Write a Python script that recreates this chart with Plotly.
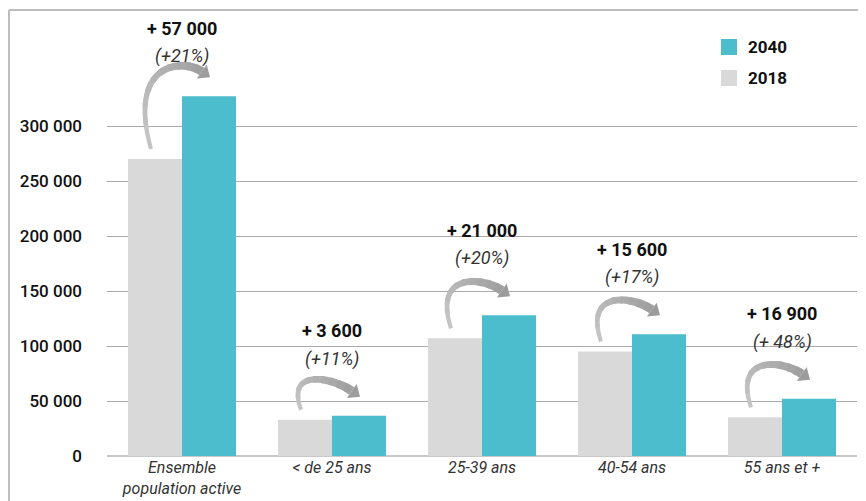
import math
import plotly.graph_objects as go

# ---------------- data ----------------
categories = ["Ensemble<br>population active", "< de 25 ans", "25-39 ans", "40-54 ans", "55 ans et +"]
series_names = ["2018", "2040"]
values_2018 = [270000, 33000, 107000, 95000, 35200]
values_2040 = [327000, 36600, 128000, 110600, 52100]
gain_labels = ["+ 57 000", "+ 3 600", "+ 21 000", "+ 15 600", "+ 16 900"]
pct_labels = ["(+21%)", "(+11%)", "(+20%)", "(+17%)", "(+ 48%)"]
y_tickvals = [0, 50000, 100000, 150000, 200000, 250000, 300000]
y_ticktext = ["0", "50 000", "100 000", "150 000", "200 000", "250 000", "300 000"]

# ---------------- styling / geometry ----------------
# page body has an 8px margin: figure is placed at (8, 8) inside the 866x501 window
OFF = 8
VW, VH = 866, 501
W, H = VW - OFF, VH - OFF
PL, PR, PT, PB = 107, 857, 16, 456          # plot area in window pixels
ML, MR, MT, MB = PL - OFF, W - (PR - OFF), PT - OFF, H - (PB - OFF)
YMAX = 400000
NCAT = len(categories)
COL_2018 = "#D9D9D9"
COL_2040 = "#4BBDCC"
FONT = "Roboto, 'Liberation Sans', Arial, sans-serif"


def xpx(xd):
    return PL + (xd + 0.5) / NCAT * (PR - PL)


def xd(px):
    return (px - PL) / (PR - PL) * NCAT - 0.5


def ypx(yd):
    return PB - yd / YMAX * (PB - PT)


def yd(px):
    return (PB - px) / (PB - PT) * YMAX


def xpaper(px):
    return (px - PL) / (PR - PL)


def ypaper(px):
    return (PB - px) / (PB - PT)


fig = go.Figure()
fig.add_trace(go.Bar(x=list(range(NCAT)), y=values_2018, name=series_names[0],
                     marker=dict(color=COL_2018, line=dict(width=0)), showlegend=False))
fig.add_trace(go.Bar(x=list(range(NCAT)), y=values_2040, name=series_names[1],
                     marker=dict(color=COL_2040, line=dict(width=0)), showlegend=False))

shapes = []
annotations = []


def bez(p0, p1, p2, p3, t):
    a = (1 - t) ** 3
    b = 3 * (1 - t) ** 2 * t
    c = 3 * (1 - t) * t ** 2
    d = t ** 3
    return (a * p0[0] + b * p1[0] + c * p2[0] + d * p3[0],
            a * p0[1] + b * p1[1] + c * p2[1] + d * p3[1])


def bezd(p0, p1, p2, p3, t):
    a = 3 * (1 - t) ** 2
    b = 6 * (1 - t) * t
    c = 3 * t ** 2
    return (a * (p1[0] - p0[0]) + b * (p2[0] - p1[0]) + c * (p3[0] - p2[0]),
            a * (p1[1] - p0[1]) + b * (p2[1] - p1[1]) + c * (p3[1] - p2[1]))


def path_of(pts):
    return "M " + " L ".join(f"{xd(x):.5f},{yd(y):.2f}" for x, y in pts) + " Z"


def mix(c0, c1, f):
    r = [int(round(c0[k] + (c1[k] - c0[k]) * f)) for k in range(3)]
    return f"rgb({r[0]},{r[1]},{r[2]})"


ang = math.radians(35)
dvec = (math.cos(ang), math.sin(ang))
for i in range(NCAT):
    cx = xpx(i)
    y18 = ypx(values_2018[i])
    y40 = ypx(values_2040[i])
    S = (cx - 31, y18 - 10)
    T = (cx + 28, y40 - 19)
    E = (T[0] - 10 * dvec[0], T[1] - 10 * dvec[1])
    P = min(S[1], E[1]) - 24
    span = S[1] - P
    C1 = (S[0] - 9 - 0.15 * span, P + 0.25 * max(0, span - 40))
    C2 = (E[0] - 24 * dvec[0], E[1] - 24 * dvec[1])
    n = 30
    left, right = [], []
    for k in range(n + 1):
        t = k / n
        p = bez(S, C1, C2, E, t)
        dx, dy = bezd(S, C1, C2, E, t)
        L = math.hypot(dx, dy) or 1
        nx, ny = -dy / L, dx / L
        w = (4 + 5 * t) / 2
        left.append((p[0] + nx * w, p[1] + ny * w))
        right.append((p[0] - nx * w, p[1] - ny * w))
    seg = 3
    for k in range(0, n, seg):
        k2 = min(n, k + seg + 1)
        poly = left[k:k2 + 1] + right[k:k2 + 1][::-1]
        f = k / n
        col = mix((196, 196, 196), (156, 156, 156), f)
        shapes.append(dict(type="path", xref="x", yref="y", path=path_of(poly),
                           fillcolor=col, line=dict(width=0), layer="above"))
    nx, ny = -dvec[1], dvec[0]
    head = [T, (E[0] + nx * 8.5, E[1] + ny * 8.5), (E[0] - nx * 8.5, E[1] - ny * 8.5)]
    shapes.append(dict(type="path", xref="x", yref="y", path=path_of(head),
                       fillcolor="#9c9c9c", line=dict(width=0), layer="above"))

    l1 = max(y40 - 85, 28)
    l2 = l1 + 28
    annotations.append(dict(x=i, y=yd(l1), xref="x", yref="y", text=f"<b>{gain_labels[i]}</b>",
                            showarrow=False, xanchor="center", yanchor="middle",
                            font=dict(family=FONT, size=18, color="#111111")))
    annotations.append(dict(x=i, y=yd(l2), xref="x", yref="y", text=f"<i>{pct_labels[i]}</i>",
                            showarrow=False, xanchor="center", yanchor="middle",
                            font=dict(family=FONT, size=18, color="#333333")))

# custom legend (2040 on top, 2018 below)
for name, col, ycen in [(series_names[1], COL_2040, 47), (series_names[0], COL_2018, 78)]:
    shapes.append(dict(type="rect", xref="paper", yref="paper",
                       x0=xpaper(721), x1=xpaper(737), y0=ypaper(ycen + 8), y1=ypaper(ycen - 8),
                       fillcolor=col, line=dict(width=0)))
    annotations.append(dict(x=xpaper(746), y=ypaper(ycen), xref="paper", yref="paper",
                            text=f"<b>{name}</b>", showarrow=False, xanchor="left", yanchor="middle",
                            font=dict(family=FONT, size=17, color="#111111")))

# frame lines (top and left)
FX = OFF + 1
shapes.append(dict(type="line", xref="paper", yref="paper", x0=xpaper(FX), x1=xpaper(VW + 5),
                   y0=ypaper(10), y1=ypaper(10), line=dict(color="#bdbdbd", width=2)))
shapes.append(dict(type="line", xref="paper", yref="paper", x0=xpaper(FX), x1=xpaper(FX),
                   y0=ypaper(10), y1=ypaper(VH + 5), line=dict(color="#bdbdbd", width=2)))

fig.update_layout(
    width=W, height=H,
    margin=dict(l=ML, r=MR, t=MT, b=MB, pad=0, autoexpand=False),
    paper_bgcolor="white", plot_bgcolor="white",
    barmode="group", bargap=0.28, bargroupgap=0,
    showlegend=False,
    shapes=shapes, annotations=annotations,
    font=dict(family=FONT, color="#222222"),
    xaxis=dict(range=[-0.5, NCAT - 0.5], tickmode="array", tickvals=list(range(NCAT)),
               ticktext=[f"<i>{c}</i>" for c in categories], showgrid=False, zeroline=False,
               showline=False, ticks="", automargin=False,
               tickfont=dict(family=FONT, size=16, color="#333333"),
               fixedrange=True),
    yaxis=dict(range=[0, YMAX], tickmode="array", tickvals=y_tickvals, ticktext=y_ticktext,
               showgrid=True, gridcolor="#a9a9a9", gridwidth=1, zeroline=True,
               zerolinecolor="#c8c8c8", zerolinewidth=2, showline=False, ticks="",
               ticklabelstandoff=24, automargin=False,
               tickfont=dict(family=FONT, size=17, color="#111111", weight=500),
               fixedrange=True),
)

fig.write_html("out.html")
